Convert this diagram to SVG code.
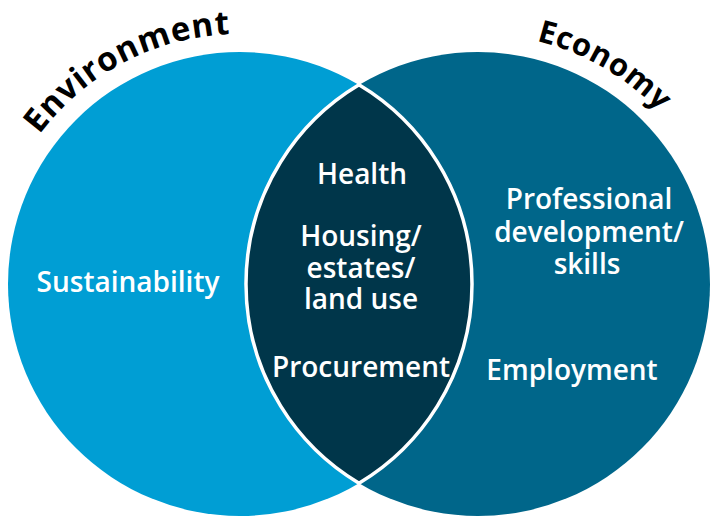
<svg xmlns="http://www.w3.org/2000/svg" xmlns:xlink="http://www.w3.org/1999/xlink" width="720" height="518" viewBox="0 0 720 518">
  <style>
    .lbl { font-family: "Open Sans", "Noto Sans", "DejaVu Sans", sans-serif; font-weight: 600; font-size: 28px; fill: #ffffff; text-anchor: middle; }
    .title { font-family: "Open Sans", "Noto Sans", "DejaVu Sans", sans-serif; font-weight: 700; fill: #000000; }
  </style>
  <defs>
    <path id="envArc" d="M -4.3 230.95 A 250 250 0 0 1 334.65 52.6"/>
    <path id="ecoArc" d="M 392.5 49.1 A 250 250 0 0 1 724.2 240.6"/>
  </defs>
  <rect width="720" height="518" fill="#ffffff"/>

  <g id="environment">
    <circle cx="240" cy="284" r="232" fill="#009ED4"/>
    <text class="title" font-size="33" letter-spacing="0.8"><textPath xlink:href="#envArc" href="#envArc" startOffset="50%" text-anchor="middle">Environment</textPath></text>
    <text class="lbl" x="128" y="292">Sustainability</text>
  </g>

  <g id="economy">
    <circle cx="478" cy="284" r="232" fill="#00668A"/>
    <text class="title" font-size="31" letter-spacing="0.5"><textPath xlink:href="#ecoArc" href="#ecoArc" startOffset="50%" text-anchor="middle">Economy</textPath></text>
    <text class="lbl" x="589" y="209">Professional</text>
    <text class="lbl" x="589" y="242">development/</text>
    <text class="lbl" x="587" y="274">skills</text>
    <text class="lbl" x="572" y="380">Employment</text>
  </g>

  <g id="overlap">
    <path d="M 359 84.84 A 232 232 0 0 1 359 483.16 A 232 232 0 0 1 359 84.84 Z" fill="#00364A" stroke="#ffffff" stroke-width="3.5" stroke-linejoin="round"/>
    <text class="lbl" x="362" y="184">Health</text>
    <text class="lbl" x="361" y="246">Housing/</text>
    <text class="lbl" x="361" y="278">estates/</text>
    <text class="lbl" x="361" y="309">land use</text>
    <text class="lbl" x="361" y="377">Procurement</text>
  </g>

  <g id="connectors"/>
</svg>
